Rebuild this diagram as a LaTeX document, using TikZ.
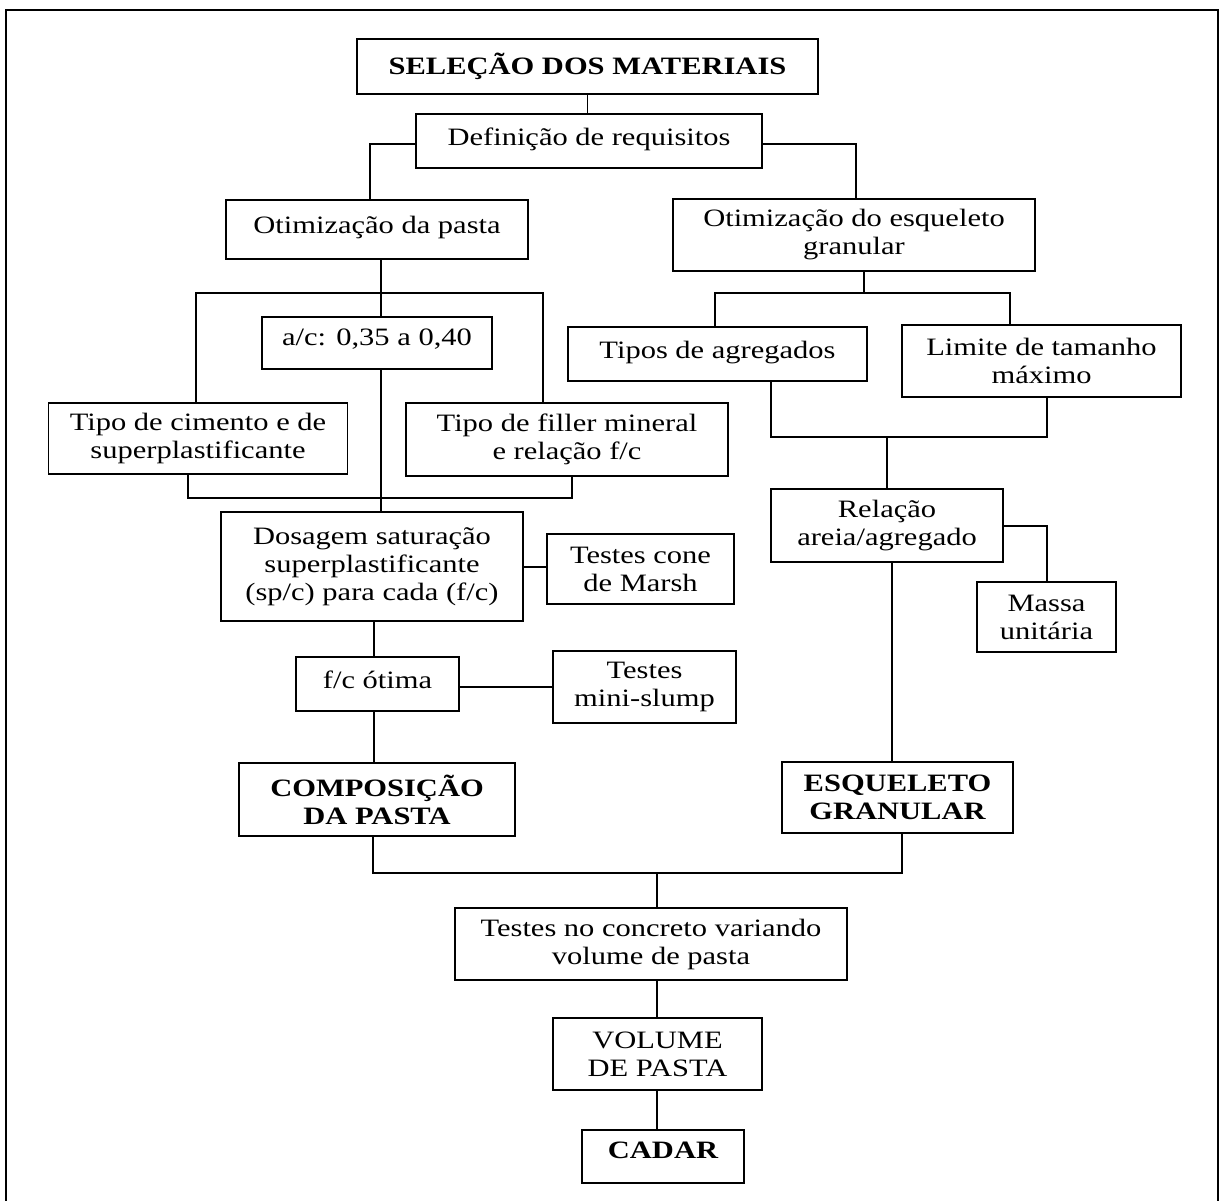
\documentclass[tikz,border=0pt]{standalone}
\usepackage{fontspec}
\setmainfont{Liberation Serif}[FakeStretch=1.22]
\usetikzlibrary{calc}
\begin{document}
\begin{tikzpicture}[x=1pt,y=-1pt,
  box/.style={draw, line width=1.9pt, inner sep=0pt, align=center,
    font=\fontsize{25}{28}\selectfont},
  bbox/.style={box, font=\fontsize{25}{28}\selectfont\bfseries},
  conn/.style={line width=1.9pt},
  frame/.style={line width=2.2pt}]
\useasboundingbox (0,0) rectangle (1220,1201);
% outer frame (open at bottom, cut by page)
\draw[frame] (6,1215) -- (6,10) -- (1218,10) -- (1218,1215);

% nodes
\node[bbox, minimum width=461pt, minimum height=55pt] (sel) at (587.5,66.5) {SELEÇÃO DOS MATERIAIS};
\node[box, minimum width=346pt, minimum height=54pt, text depth=9pt] (def) at (589,141) {Definição de requisitos};
\node[box, minimum width=302pt, minimum height=59pt, text depth=10pt] (otp) at (377,229.5) {Otimização da pasta};
\node[box, minimum width=362pt, minimum height=72pt] (ote) at (854,235) {Otimização do esqueleto\\granular};
\node[box, minimum width=230pt, minimum height=52pt, text depth=11pt] (ac) at (377,343) {a/c: 0,35 a 0,40};
\node[box, minimum width=299pt, minimum height=71pt] (tci) at (198,438.5) {Tipo de cimento e de\\superplastificante};
\node[box, minimum width=322pt, minimum height=73pt] (tfi) at (567,439.5) {Tipo de filler mineral\\e relação f/c};
\node[box, minimum width=302pt, minimum height=109pt] (dos) at (372,566.5) {Dosagem saturação\\superplastificante\\(sp/c) para cada (f/c)};
\node[box, minimum width=187pt, minimum height=70pt] (mar) at (640.5,569) {Testes cone\\de Marsh};
\node[box, minimum width=163pt, minimum height=54pt, text depth=8pt] (fco) at (377.5,684) {f/c ótima};
\node[box, minimum width=183pt, minimum height=72pt] (msl) at (644.5,687) {Testes\\mini-slump};
\node[bbox, minimum width=276pt, minimum height=73pt] (com) at (377,799.5) {COMPOSIÇÃO\\DA PASTA};
\node[box, minimum width=299pt, minimum height=54pt, text depth=9pt] (tag) at (717.5,354) {Tipos de agregados};
\node[box, minimum width=279pt, minimum height=72pt] (lim) at (1041.5,361) {Limite de tamanho\\máximo};
\node[box, minimum width=232pt, minimum height=73pt] (rel) at (887,525.5) {Relação\\areia/agregado};
\node[box, minimum width=139pt, minimum height=70pt] (mas) at (1046.5,617) {Massa\\unitária};
\node[bbox, minimum width=231pt, minimum height=71pt] (esq) at (897.5,797.5) {ESQUELETO\\GRANULAR};
\node[box, minimum width=392pt, minimum height=72pt] (tes) at (651,944) {Testes no concreto variando\\volume de pasta};
\node[box, minimum width=209pt, minimum height=72pt] (vol) at (657.5,1054) {VOLUME\\DE PASTA};
\node[bbox, minimum width=162pt, minimum height=53pt, text depth=12pt] (cad) at (663,1156.5) {CADAR};

% junction coordinates
\coordinate (jd) at (370,144);
\coordinate (je) at (856,144);
\coordinate (jp) at (381,293);
\coordinate (jpl) at (196,293);
\coordinate (jpr) at (543,293);
\coordinate (jbl) at (188,498);
\coordinate (jbr) at (572,498);
\coordinate (jg) at (864,293);
\coordinate (jgl) at (715,293);
\coordinate (jgr) at (1010,293);
\coordinate (jal) at (771,437);
\coordinate (jar) at (1047,437);
\coordinate (jam) at (887,437);
\coordinate (jm) at (1047,526);
\coordinate (jcl) at (373,873);
\coordinate (jcr) at (902,873);
\coordinate (jcm) at (657,873);

% connectors
\draw[conn] (sel.south) -- (sel.south |- def.north);
\draw[conn] (def.west |- jd) -- (jd) -- (jd |- otp.north);
\draw[conn] (def.east |- je) -- (je) -- (je |- ote.north);
\draw[conn] (jp |- otp.south) -- (jp |- ac.north);
\draw[conn] (jpl |- tci.north) -- (jpl) -- (jpr) -- (jpr |- tfi.north);
\draw[conn] (jp |- ac.south) -- (jp |- dos.north);
\draw[conn] (jbl |- tci.south) -- (jbl) -- (jbr) -- (jbr |- tfi.south);
\draw[conn] (dos.east |- 0,567) -- (mar.west |- 0,567);
\draw[conn] (dos.south -| 374,0) -- (fco.north -| 374,0);
\draw[conn] (fco.east |- 0,687) -- (msl.west |- 0,687);
\draw[conn] (fco.south -| 374,0) -- (com.north -| 374,0);
\draw[conn] (jg |- ote.south) -- (jg);
\draw[conn] (jgl |- tag.north) -- (jgl) -- (jgr) -- (jgr |- lim.north);
\draw[conn] (jal |- tag.south) -- (jal) -- (jar) -- (jar |- lim.south);
\draw[conn] (jam) -- (jam |- rel.north);
\draw[conn] (rel.east |- jm) -- (jm) -- (jm |- mas.north);
\draw[conn] (rel.south -| 892,0) -- (esq.north -| 892,0);
\draw[conn] (jcl |- com.south) -- (jcl) -- (jcr) -- (jcr |- esq.south);
\draw[conn] (jcm) -- (jcm |- tes.north);
\draw[conn] (tes.south -| jcm) -- (vol.north -| jcm);
\draw[conn] (vol.south -| jcm) -- (cad.north -| jcm);
\end{tikzpicture}
\end{document}
